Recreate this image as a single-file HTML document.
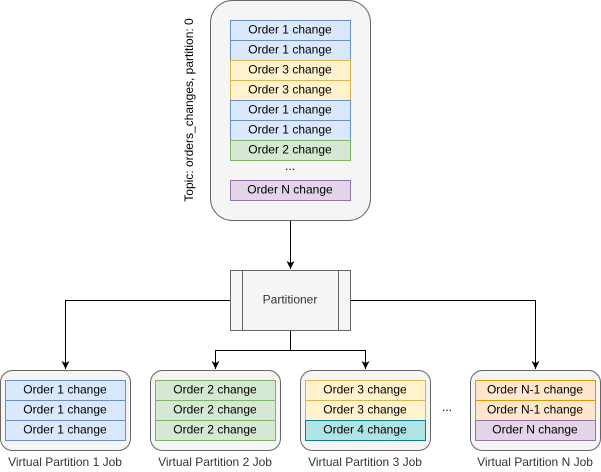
<!DOCTYPE html>
<html><head><meta charset="utf-8"><style>
html,body{margin:0;padding:0;background:#fff;}
svg{display:block;}
text{font-family:"Liberation Sans",Arial,sans-serif;font-size:12px;fill:#000;}
</style></head><body>
<svg width="601" height="472" viewBox="0 0 601 472" xmlns="http://www.w3.org/2000/svg">
<defs><marker id="a" markerWidth="8" markerHeight="8" refX="8" refY="4" orient="auto" markerUnits="userSpaceOnUse" viewBox="0 0 8 8"><path d="M0,0 L8,4 L0,8 L2,4 Z" fill="#000"/></marker></defs>
<!-- topic -->
<rect x="210.5" y="0.5" width="160" height="220" rx="22" fill="#f5f5f5" stroke="#666"/>
<text transform="translate(193,110) rotate(-90)" text-anchor="middle">Topic: orders_changes, partition: 0</text>
<g text-anchor="middle">
<rect x="230.5" y="20.5" width="120" height="20" fill="#dae8fc" stroke="#6c8ebf"/><text x="290" y="33.5">Order 1 change</text>
<rect x="230.5" y="40.5" width="120" height="20" fill="#dae8fc" stroke="#6c8ebf"/><text x="290" y="53.5">Order 1 change</text>
<rect x="230.5" y="60.5" width="120" height="20" fill="#fff2cc" stroke="#d6b656"/><text x="290" y="73.5">Order 3 change</text>
<rect x="230.5" y="80.5" width="120" height="20" fill="#fff2cc" stroke="#d6b656"/><text x="290" y="93.5">Order 3 change</text>
<rect x="230.5" y="100.5" width="120" height="20" fill="#dae8fc" stroke="#6c8ebf"/><text x="290" y="113.5">Order 1 change</text>
<rect x="230.5" y="120.5" width="120" height="20" fill="#dae8fc" stroke="#6c8ebf"/><text x="290" y="133.5">Order 1 change</text>
<rect x="230.5" y="140.5" width="120" height="20" fill="#d5e8d4" stroke="#82b366"/><text x="290" y="153.5">Order 2 change</text>
<text x="290" y="170">...</text>
<rect x="230.5" y="180.5" width="120" height="20" fill="#e1d5e7" stroke="#9673a6"/><text x="290" y="193.5">Order N change</text>
</g>
<!-- connectors -->
<g stroke="#000" fill="none" stroke-width="1">
<path d="M290.5,221 V269" marker-end="url(#a)"/>
<path d="M230,300.5 H65.5 V369" marker-end="url(#a)"/>
<path d="M350,300.5 H535.5 V369" marker-end="url(#a)"/>
<path d="M290.5,330 V350.5 H215.5 V369" marker-end="url(#a)"/>
<path d="M290.5,350.5 H365.5 V369" marker-end="url(#a)"/>
</g>
<!-- partitioner -->
<rect x="230.5" y="270.5" width="120" height="60" fill="#f5f5f5" stroke="#666"/>
<path d="M242.5,270.5 V330.5 M338.5,270.5 V330.5" stroke="#666"/>
<text x="290" y="303.5" text-anchor="middle" style="fill:#333">Partitioner</text>
<!-- bottom jobs -->
<g text-anchor="middle">
<rect x="0.5" y="370.5" width="130" height="80" rx="12" fill="#f5f5f5" stroke="#666"/>
<rect x="5.5" y="380.5" width="120" height="20" fill="#dae8fc" stroke="#6c8ebf"/><text x="65" y="393.5">Order 1 change</text>
<rect x="5.5" y="400.5" width="120" height="20" fill="#dae8fc" stroke="#6c8ebf"/><text x="65" y="413.5">Order 1 change</text>
<rect x="5.5" y="420.5" width="120" height="20" fill="#dae8fc" stroke="#6c8ebf"/><text x="65" y="433.5">Order 1 change</text>
<text x="65" y="466" style="fill:#333">Virtual Partition 1 Job</text>

<rect x="150.5" y="370.5" width="130" height="80" rx="12" fill="#f5f5f5" stroke="#666"/>
<rect x="155.5" y="380.5" width="120" height="20" fill="#d5e8d4" stroke="#82b366"/><text x="215" y="393.5">Order 2 change</text>
<rect x="155.5" y="400.5" width="120" height="20" fill="#d5e8d4" stroke="#82b366"/><text x="215" y="413.5">Order 2 change</text>
<rect x="155.5" y="420.5" width="120" height="20" fill="#d5e8d4" stroke="#82b366"/><text x="215" y="433.5">Order 2 change</text>
<text x="215" y="466" style="fill:#333">Virtual Partition 2 Job</text>

<rect x="300.5" y="370.5" width="130" height="80" rx="12" fill="#f5f5f5" stroke="#666"/>
<rect x="305.5" y="380.5" width="120" height="20" fill="#fff2cc" stroke="#d6b656"/><text x="365" y="393.5">Order 3 change</text>
<rect x="305.5" y="400.5" width="120" height="20" fill="#fff2cc" stroke="#d6b656"/><text x="365" y="413.5">Order 3 change</text>
<rect x="305.5" y="420.5" width="120" height="20" fill="#b0e3e6" stroke="#0e8088"/><text x="365" y="433.5">Order 4 change</text>
<text x="365" y="466" style="fill:#333">Virtual Partition 3 Job</text>

<text x="447" y="411">...</text>

<rect x="470.5" y="370.5" width="130" height="80" rx="12" fill="#f5f5f5" stroke="#666"/>
<rect x="475.5" y="380.5" width="120" height="20" fill="#ffe6cc" stroke="#d79b00"/><text x="535" y="393.5">Order N-1 change</text>
<rect x="475.5" y="400.5" width="120" height="20" fill="#ffe6cc" stroke="#d79b00"/><text x="535" y="413.5">Order N-1 change</text>
<rect x="475.5" y="420.5" width="120" height="20" fill="#e1d5e7" stroke="#9673a6"/><text x="535" y="433.5">Order N change</text>
<text x="535" y="466" style="fill:#333">Virtual Partition N Job</text>
</g>
</svg>
</body></html>
